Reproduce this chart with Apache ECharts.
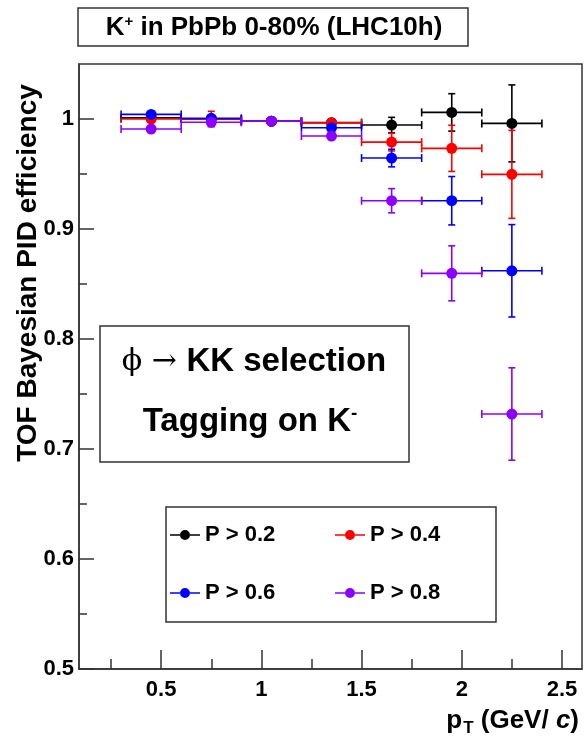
<!DOCTYPE html>
<html>
<head>
<meta charset="utf-8">
<script src="https://cdn.jsdelivr.net/npm/echarts@6/dist/echarts.min.js"></script>
<style>
html,body{margin:0;padding:0;background:#fff;}
#chart{width:587px;height:748px;}
</style>
</head>
<body>
<div id="chart"></div>
<script>
// ---- data ----
const ptCenters    = [0.45, 0.75, 1.05, 1.35, 1.65, 1.95, 2.25];
const ptHalfWidths = [0.15, 0.15, 0.15, 0.15, 0.15, 0.15, 0.15];

const effP02 = [1.001, 1.000, 0.998, 0.9967, 0.9945, 1.006, 0.996];
const errP02 = [0.002, 0.002, 0.002, 0.003, 0.007, 0.017, 0.035];
const effP04 = [1.000, 1.000, 0.998, 0.9965, 0.979, 0.9733, 0.9497];
const errP04 = [0.002, 0.007, 0.002, 0.003, 0.008, 0.021, 0.040];
const effP06 = [1.0042, 1.0006, 0.998, 0.992, 0.9645, 0.9257, 0.862];
const errP06 = [0.002, 0.002, 0.002, 0.003, 0.008, 0.022, 0.042];
const effP08 = [0.9909, 0.997, 0.998, 0.9845, 0.9257, 0.8597, 0.7318];
const errP08 = [0.002, 0.002, 0.002, 0.003, 0.011, 0.025, 0.042];

const seriesNames  = ['P > 0.2', 'P > 0.4', 'P > 0.6', 'P > 0.8'];
const seriesColors = ['#000000', '#ff0000', '#0000ff', '#8b00ff'];

const xMajorTicks = [0.5, 1, 1.5, 2, 2.5];
const xMinorTicks = [0.25, 0.75, 1.25, 1.75, 2.25];
const yMajorTicks = [0.5, 0.6, 0.7, 0.8, 0.9, 1.0];
const yMinorTicks = [0.55, 0.65, 0.75, 0.85, 0.95];

// ---- build ----
const allEff = [effP02, effP04, effP06, effP08];
const allErr = [errP02, errP04, errP06, errP08];

function buildData(eff, err) {
  return ptCenters.map((x, i) => [x, eff[i], ptHalfWidths[i], err[i], err[i]]);
}

function renderItem(params, api) {
  const x = api.value(0), y = api.value(1);
  const ex = api.value(2), eLo = api.value(3), eHi = api.value(4);
  const c = api.coord([x, y]);
  const l = api.coord([x - ex, y]);
  const r = api.coord([x + ex, y]);
  const t = api.coord([x, y + eHi]);
  const b = api.coord([x, y - eLo]);
  const color = api.visual('color');
  const st = {stroke: color, lineWidth: 1.6};
  const hc = 4, vc = 3.5;
  return {
    type: 'group',
    children: [
      {type: 'line', shape: {x1: l[0], y1: c[1], x2: r[0], y2: c[1]}, style: st},
      {type: 'line', shape: {x1: l[0], y1: c[1] - hc, x2: l[0], y2: c[1] + hc}, style: st},
      {type: 'line', shape: {x1: r[0], y1: c[1] - hc, x2: r[0], y2: c[1] + hc}, style: st},
      {type: 'line', shape: {x1: c[0], y1: t[1], x2: c[0], y2: b[1]}, style: st},
      {type: 'line', shape: {x1: c[0] - vc, y1: t[1], x2: c[0] + vc, y2: t[1]}, style: st},
      {type: 'line', shape: {x1: c[0] - vc, y1: b[1], x2: c[0] + vc, y2: b[1]}, style: st},
      {type: 'circle', shape: {cx: c[0], cy: c[1], r: 5.5}, style: {fill: color}}
    ]
  };
}

const FONT = '"Liberation Sans", Arial, Helvetica, sans-serif';
const legendIcon = 'path://M0,4.3H10V5.7H0Z M20,4.3H30V5.7H20Z M10,5A5,5 0 1 1 20,5A5,5 0 1 1 10,5Z';

const legendPos = [[170, 524], [335, 524], [170, 582], [335, 582]];

const option = {
  animation: false,
  color: seriesColors,
  grid: {left: 79, top: 64, right: 5, bottom: 79, show: true, borderColor: '#333', borderWidth: 1.5, backgroundColor: 'transparent'},
  xAxis: [{
    type: 'value', min: 0.09, max: 2.6, gridIndex: 0,
    axisLine: {show: true, onZero: false, lineStyle: {color: '#333', width: 1.5}},
    axisTick: {show: true, inside: true, length: 19, customValues: xMajorTicks, lineStyle: {color: '#333', width: 1.5}},
    axisLabel: {show: true, customValues: xMajorTicks, margin: 10, color: '#000', fontSize: 22, fontWeight: 'bold', fontFamily: FONT},
    splitLine: {show: false}
  }, {
    type: 'value', min: 0.09, max: 2.6, gridIndex: 0, position: 'bottom',
    axisLine: {show: false, onZero: false},
    axisTick: {show: true, inside: true, length: 10, customValues: xMinorTicks, lineStyle: {color: '#333', width: 1.5}},
    axisLabel: {show: false},
    splitLine: {show: false}
  }],
  yAxis: [{
    type: 'value', min: 0.5, max: 1.05,
    axisLine: {show: true, onZero: false, lineStyle: {color: '#333', width: 1.5}},
    axisTick: {show: true, inside: true, length: 15, customValues: yMajorTicks, lineStyle: {color: '#333', width: 1.5}},
    axisLabel: {show: true, customValues: yMajorTicks, margin: 5, color: '#000', fontSize: 22, fontWeight: 'bold', fontFamily: FONT},
    splitLine: {show: false}
  }, {
    type: 'value', min: 0.5, max: 1.05, position: 'left',
    axisLine: {show: false, onZero: false},
    axisTick: {show: true, inside: true, length: 8, customValues: yMinorTicks, lineStyle: {color: '#333', width: 1.5}},
    axisLabel: {show: false},
    splitLine: {show: false}
  }],
  legend: seriesNames.map((n, i) => ({
    data: [{name: n, icon: legendIcon}],
    left: legendPos[i][0], top: legendPos[i][1], padding: 0,
    itemWidth: 30, itemHeight: 10, itemGap: 0,
    selectedMode: false,
    textStyle: {color: '#000', fontSize: 22, fontWeight: 'bold', fontFamily: FONT, padding: [0, 0, 0, 0]},
    z: 10
  })),
  graphic: [
    {type: 'rect', z: 5, shape: {x: 78, y: 8, width: 390, height: 38}, style: {fill: '#fff', stroke: '#333', lineWidth: 1.5}},
    {type: 'text', z: 6, x: 274, y: 28, style: {
      text: 'K{sup|+} in PbPb 0-80% (LHC10h)', align: 'center', verticalAlign: 'middle',
      font: 'bold 26px ' + FONT, fill: '#000',
      rich: {sup: {fontSize: 15, fontWeight: 'bold', fontFamily: FONT, padding: [0, 0, 13, 0]}}
    }},
    {type: 'rect', z: 5, shape: {x: 100, y: 326, width: 309, height: 136}, style: {fill: '#fff', stroke: '#333', lineWidth: 1.5}},
    {type: 'text', z: 6, x: 254, y: 362, style: {
      text: '{s|\u03d5 \u2192 }KK selection', align: 'center', verticalAlign: 'middle',
      font: 'bold 33px ' + FONT, fill: '#000',
      rich: {s: {fontSize: 30, fontWeight: 'normal', fontFamily: '"DejaVu Serif", "Liberation Serif", serif'}}
    }},
    {type: 'text', z: 6, x: 250, y: 422, style: {
      text: 'Tagging on K{sup|-}', align: 'center', verticalAlign: 'middle',
      font: 'bold 33px ' + FONT, fill: '#000',
      rich: {sup: {fontSize: 19, fontWeight: 'bold', fontFamily: FONT, padding: [0, 0, 17, 0]}}
    }},
    {type: 'rect', z: 5, shape: {x: 166, y: 507, width: 330, height: 115}, style: {fill: '#fff', stroke: '#333', lineWidth: 1.5}},
    {type: 'text', z: 6, x: 28, y: 273, rotation: Math.PI / 2, style: {
      text: 'TOF Bayesian PID efficiency', align: 'center', verticalAlign: 'middle',
      font: 'bold 28px ' + FONT, fill: '#000'
    }},
    {type: 'text', z: 6, x: 579, y: 721, style: {
      text: 'p{sub|T} (GeV/ {i|c})', align: 'right', verticalAlign: 'middle',
      font: 'bold 26px ' + FONT, fill: '#000',
      rich: {
        sub: {fontSize: 17, fontWeight: 'bold', fontFamily: FONT, padding: [14, 0, 0, 1]},
        i: {fontSize: 26, fontWeight: 'bold', fontStyle: 'italic', fontFamily: FONT}
      }
    }}
  ],
  series: seriesNames.map((n, i) => ({
    name: n, type: 'custom', renderItem: renderItem,
    xAxisIndex: 0, yAxisIndex: 0,
    itemStyle: {color: seriesColors[i]},
    encode: {x: 0, y: 1},
    data: buildData(allEff[i], allErr[i]),
    clip: true, z: 2 + i
  }))
};

const chart = echarts.init(document.getElementById('chart'), null, {renderer: 'canvas'});
chart.setOption(option);
</script>
</body>
</html>
